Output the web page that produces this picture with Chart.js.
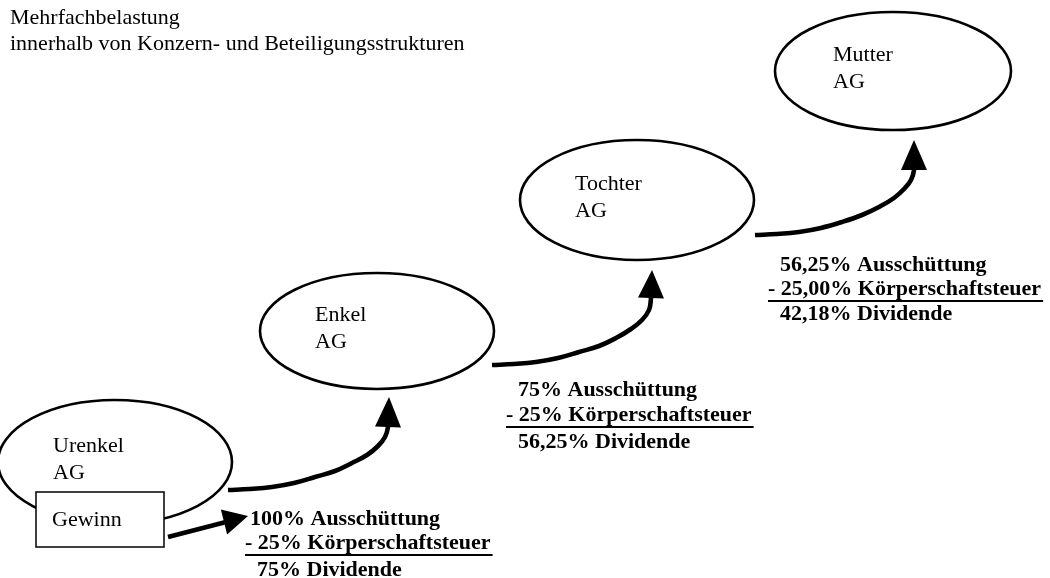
<!DOCTYPE html>
<html>
<head>
<meta charset="utf-8">
<script src="https://cdn.jsdelivr.net/npm/chart.js@4.4.0/dist/chart.umd.min.js"></script>
<style>
  html, body { margin: 0; padding: 0; background: #fff; }
  #wrap { width: 1050px; height: 578px; }
</style>
</head>
<body>
<div id="wrap"><canvas id="diagram" width="1050" height="578"></canvas></div>
<script>
// Diagram values (x/y in the 0..1050 / 0..578 value space of the hidden axes)
const titleLines = ['Mehrfachbelastung', 'innerhalb von Konzern- und Beteiligungsstrukturen'];

const companies = ['Urenkel', 'Enkel', 'Tochter', 'Mutter'];
const companyX = [115, 377, 637, 893];
const companyY = [462, 331, 200, 71];
const companyRx = [117, 117, 117, 118];
const companyRy = [62, 58, 60, 59];
const labelX = [53, 315, 575, 833];

const gewinnBox = { x: [36, 164], y: [492, 547], label: 'Gewinn' };

// arrow paths (the last point runs into the arrow head)
const arrowPathX = [
  [228, 250, 272, 294, 315, 335, 352, 367, 378, 385, 388, 389],
  [492, 514, 536, 558, 579, 599, 616, 631, 642, 649, 651, 652],
  [755, 777, 799, 821, 842, 862, 879, 894, 905, 911, 914, 914],
  [168, 226]
];
const arrowPathY = [
  [490, 489, 487, 483, 477, 471, 463, 455, 446, 437, 427, 410],
  [365, 364, 362, 358, 352, 346, 338, 329, 320, 310, 298, 283],
  [235, 234, 232, 228, 222, 215, 207, 198, 188, 180, 170, 153],
  [537, 522]
];
const arrowTipX = [389, 652, 914, 248];
const arrowTipY = [397, 270, 140, 516];
const arrowBaseX = [388, 651, 914, 224];
const arrowBaseY = [427, 298, 170, 522];

// Ausschüttung / Steuer / Dividende per stage
const distribution = ['100% Ausschüttung', '75% Ausschüttung', '56,25% Ausschüttung'];
const corpTax = ['- 25% Körperschaftsteuer', '- 25% Körperschaftsteuer', '- 25,00% Körperschaftsteuer'];
const dividend = ['75% Dividende', '56,25% Dividende', '42,18% Dividende'];
const blockX = [[250, 245, 257], [518, 506, 518], [780, 768, 780]];
const blockY = [[519, 543, 570], [390, 415, 442], [265, 289, 314]];

const serif = '"Liberation Serif", "Times New Roman", serif';

function px(chart, x, y) {
  return [chart.scales.x.getPixelForValue(x), chart.scales.y.getPixelForValue(y)];
}

// ellipses + Gewinn box under the arrows, heads and texts on top
const shapesPlugin = {
  id: 'shapes',
  beforeDatasetsDraw(chart) {
    const ctx = chart.ctx;
    ctx.save();
    ctx.lineWidth = 2.6;
    ctx.strokeStyle = '#000';
    companies.forEach((name, i) => {
      const [cx, cy] = px(chart, companyX[i], companyY[i]);
      const rx = chart.scales.x.getPixelForValue(companyX[i] + companyRx[i]) - cx;
      const ry = chart.scales.y.getPixelForValue(companyY[i] + companyRy[i]) - cy;
      ctx.beginPath();
      ctx.ellipse(cx, cy, Math.abs(rx), Math.abs(ry), 0, 0, Math.PI * 2);
      ctx.stroke();
    });
    const [bx0, by0] = px(chart, gewinnBox.x[0], gewinnBox.y[0]);
    const [bx1, by1] = px(chart, gewinnBox.x[1], gewinnBox.y[1]);
    ctx.fillStyle = '#fff';
    ctx.fillRect(bx0, by0, bx1 - bx0, by1 - by0);
    ctx.lineWidth = 1.5;
    ctx.strokeRect(bx0, by0, bx1 - bx0, by1 - by0);
    ctx.restore();
  },
  afterDatasetsDraw(chart) {
    const ctx = chart.ctx;
    ctx.save();
    ctx.fillStyle = '#000';
    // arrow heads
    arrowTipX.forEach((tx, i) => {
      const [bx, by] = px(chart, arrowBaseX[i], arrowBaseY[i]);
      const [tpx, tpy] = px(chart, tx, arrowTipY[i]);
      const dx = tpx - bx, dy = tpy - by;
      const len = Math.hypot(dx, dy);
      const nx = -dy / len * 13, ny = dx / len * 13;
      ctx.beginPath();
      ctx.moveTo(tpx, tpy);
      ctx.lineTo(bx + nx, by + ny);
      ctx.lineTo(bx - nx, by - ny);
      ctx.closePath();
      ctx.fill();
    });

    ctx.textBaseline = 'middle';
    ctx.textAlign = 'left';
    // title
    ctx.font = '22px ' + serif;
    titleLines.forEach((t, i) => {
      const [x, y] = px(chart, 10, 18 + i * 26);
      ctx.fillText(t, x, y);
    });
    // company names
    companies.forEach((name, i) => {
      const [x, y] = px(chart, labelX[i], companyY[i] - 16);
      ctx.fillText(name, x, y);
      ctx.fillText('AG', x, y + 27);
    });
    const [gx, gy] = px(chart, 52, 520);
    ctx.fillText(gewinnBox.label, gx, gy);

    // calculation blocks
    ctx.font = 'bold 22px ' + serif;
    [distribution, corpTax, dividend].forEach((rows, r) => {
      rows.forEach((txt, b) => {
        const [x, y] = px(chart, blockX[b][r], blockY[b][r]);
        ctx.fillText(txt, x, y);
        if (r === 1) {
          const w = ctx.measureText(txt).width;
          ctx.fillRect(x, y + 11, w + 2, 2);
        }
      });
    });
    ctx.restore();
  }
};

const arrowDatasets = arrowPathX.map((xs, i) => ({
  data: xs.map((x, j) => ({ x: x, y: arrowPathY[i][j] })),
  borderColor: '#000',
  borderWidth: 4.6,
  borderCapStyle: 'butt',
  borderJoinStyle: 'round',
  pointRadius: 0,
  tension: 0.4,
  fill: false
}));

new Chart(document.getElementById('diagram'), {
  type: 'line',
  data: { datasets: arrowDatasets },
  options: {
    responsive: false,
    animation: false,
    devicePixelRatio: 1,
    layout: { padding: 0 },
    plugins: { legend: { display: false }, tooltip: { enabled: false } },
    scales: {
      x: { type: 'linear', min: 0, max: 1050, display: false },
      y: { type: 'linear', min: 0, max: 578, reverse: true, display: false }
    }
  },
  plugins: [shapesPlugin]
});
</script>
</body>
</html>
